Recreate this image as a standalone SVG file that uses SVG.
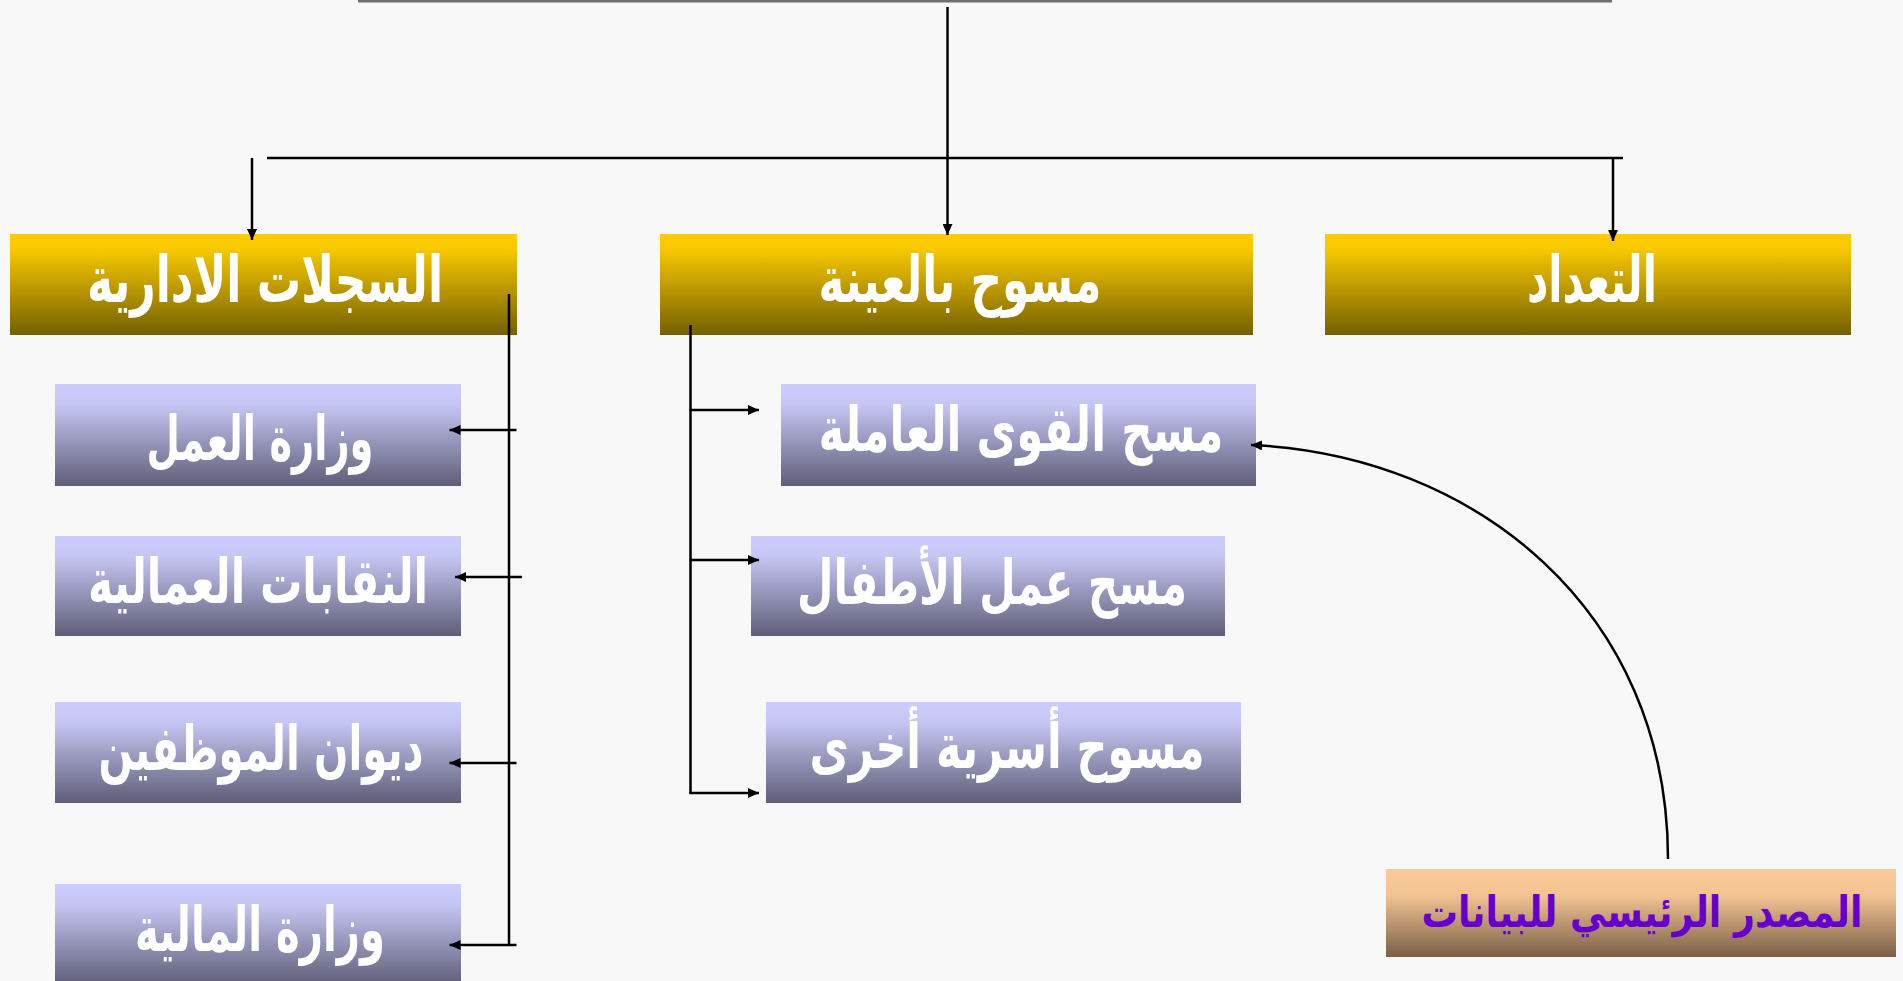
<svg xmlns="http://www.w3.org/2000/svg" width="1903" height="981" viewBox="0 0 1903 981">
<style>
.lbl{font-family:"DejaVu Sans","Noto Sans",sans-serif;font-weight:bold;fill:#ffffff;text-anchor:middle}
.src{font-family:"DejaVu Sans","Noto Sans",sans-serif;font-weight:bold;fill:#6600CC;text-anchor:middle}
.ln{stroke:#000;stroke-width:2.5;fill:none}
.ar{stroke:#000;stroke-width:2.5;fill:none;marker-end:url(#ah)}
</style>
<defs>
<linearGradient id="gy" x1="0" y1="0" x2="0" y2="1">
<stop offset="0" stop-color="#FFCC00"/>
<stop offset="0.15" stop-color="#F8C800"/>
<stop offset="1" stop-color="#746000"/>
</linearGradient>
<linearGradient id="gb" x1="0" y1="0" x2="0" y2="1">
<stop offset="0" stop-color="#CCCCFF"/>
<stop offset="0.2" stop-color="#C6C6F4"/>
<stop offset="1" stop-color="#5E5E78"/>
</linearGradient>
<linearGradient id="gp" x1="0" y1="0" x2="0" y2="1">
<stop offset="0" stop-color="#FBCB98"/>
<stop offset="0.3" stop-color="#F2C393"/>
<stop offset="1" stop-color="#7A6048"/>
</linearGradient>
<marker id="ah" markerUnits="userSpaceOnUse" markerWidth="11" markerHeight="10" viewBox="0 0 11 10" refX="11" refY="5" orient="auto">
<path d="M0,0 L11,5 L0,10 z" fill="#000"/>
</marker>
</defs>
<rect x="0" y="0" width="1903" height="981" fill="#F8F8F8"/>
<rect x="358" y="0" width="1254" height="2.5" fill="#6E6E6E"/>

<g id="n-admin">
<rect x="10" y="234" width="507" height="101" fill="url(#gy)"/>
<text class="lbl" x="265" y="302" font-size="64" textLength="356" lengthAdjust="spacingAndGlyphs">السجلات الادارية</text>
</g>
<g id="n-sample">
<rect x="660" y="234" width="593" height="101" fill="url(#gy)"/>
<text class="lbl" x="960" y="302" font-size="64" textLength="283" lengthAdjust="spacingAndGlyphs">مسوح بالعينة</text>
</g>
<g id="n-census">
<rect x="1325" y="234" width="526" height="101" fill="url(#gy)"/>
<text class="lbl" x="1592" y="302" font-size="64" textLength="130" lengthAdjust="spacingAndGlyphs">التعداد</text>
</g>

<g id="n-labor-min">
<rect x="55" y="384" width="406" height="102" fill="url(#gb)"/>
<text class="lbl" x="260" y="460" font-size="62" textLength="227" lengthAdjust="spacingAndGlyphs">وزارة العمل</text>
</g>
<g id="n-unions">
<rect x="55" y="536" width="406" height="100" fill="url(#gb)"/>
<text class="lbl" x="258" y="603" font-size="62" textLength="340" lengthAdjust="spacingAndGlyphs">النقابات العمالية</text>
</g>
<g id="n-civil">
<rect x="55" y="702" width="406" height="101" fill="url(#gb)"/>
<text class="lbl" x="261" y="770" font-size="62" textLength="325" lengthAdjust="spacingAndGlyphs">ديوان الموظفين</text>
</g>
<g id="n-finance">
<rect x="55" y="884" width="406" height="101" fill="url(#gb)"/>
<text class="lbl" x="260" y="951" font-size="62" textLength="250" lengthAdjust="spacingAndGlyphs">وزارة المالية</text>
</g>

<g id="n-lfs">
<rect x="781" y="384" width="475" height="102" fill="url(#gb)"/>
<text class="lbl" x="1021" y="451" font-size="62" textLength="405" lengthAdjust="spacingAndGlyphs">مسح القوى العاملة</text>
</g>
<g id="n-child">
<rect x="751" y="536" width="474" height="100" fill="url(#gb)"/>
<text class="lbl" x="992" y="604" font-size="62" textLength="390" lengthAdjust="spacingAndGlyphs">مسح عمل الأطفال</text>
</g>
<g id="n-other">
<rect x="766" y="702" width="475" height="101" fill="url(#gb)"/>
<text class="lbl" x="1007" y="768" font-size="62" textLength="395" lengthAdjust="spacingAndGlyphs">مسوح أسرية أخرى</text>
</g>

<g id="n-source">
<rect x="1386" y="869" width="510" height="88" fill="url(#gp)"/>
<text class="src" transform="translate(1642,927) scale(1,1.2)" x="0" y="0" font-size="36" textLength="441" lengthAdjust="spacingAndGlyphs">المصدر الرئيسي للبيانات</text>
</g>

<g id="connectors">
<line class="ar" x1="947.5" y1="7" x2="947.5" y2="235"/>
<line class="ln" x1="267" y1="158" x2="1623" y2="158"/>
<line class="ar" x1="252" y1="158" x2="252" y2="240"/>
<line class="ar" x1="1613" y1="158" x2="1613" y2="241"/>

<line class="ln" x1="509" y1="294" x2="509" y2="946"/>
<line class="ar" x1="516.5" y1="430" x2="449.5" y2="430"/>
<line class="ar" x1="522" y1="577" x2="455" y2="577"/>
<line class="ar" x1="516.5" y1="763" x2="449.5" y2="763"/>
<line class="ar" x1="516.5" y1="945" x2="449.5" y2="945"/>

<line class="ln" x1="690.5" y1="325" x2="690.5" y2="794"/>
<line class="ar" x1="689.5" y1="410" x2="759" y2="410"/>
<line class="ar" x1="689.5" y1="560" x2="759" y2="560"/>
<line class="ar" x1="689.5" y1="793" x2="759" y2="793"/>

<path class="ar" d="M1668,859 C1668,610 1475,455 1251,445"/>
</g>
</svg>
